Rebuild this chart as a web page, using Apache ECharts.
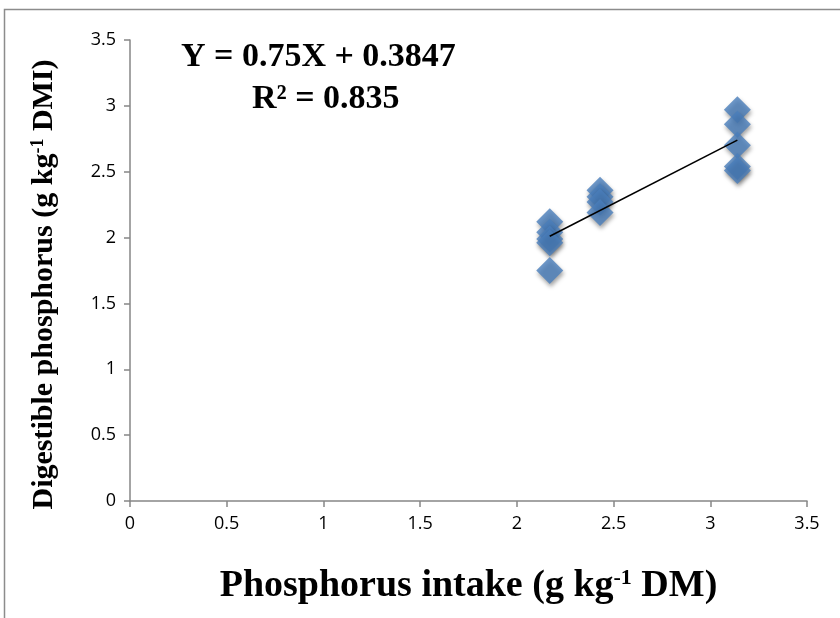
<!DOCTYPE html>
<html>
<head>
<meta charset="utf-8">
<script src="https://cdn.jsdelivr.net/npm/echarts@6/dist/echarts.min.js"></script>
<style>
  html, body { margin: 0; padding: 0; background: #fff; }
  #chart { width: 840px; height: 618px; }
</style>
</head>
<body>
<div id="chart"></div>
<script>
// P intake vs digestible P
const intake = [2.17, 2.17, 2.17, 2.17, 2.17, 2.43, 2.43, 2.43, 2.43, 3.14, 3.14, 3.14, 3.14, 3.14];
const digestible = [2.12, 2.04, 1.99, 1.96, 1.75, 2.36, 2.31, 2.27, 2.19, 2.97, 2.86, 2.70, 2.54, 2.51];
// trend line ends (Y = 0.75X + 0.3847)
const trendX = [2.17, 3.14];
const trendY = [2.01, 2.74];
const eqText = 'Y = 0.75X + 0.3847';
const r2Text = 'R² = 0.835';

const points = intake.map((x, i) => [x, digestible[i]]);
const trend = trendX.map((x, i) => [x, trendY[i]]);

const chart = echarts.init(document.getElementById('chart'));
const axisGray = '#868686';
const serif = '"Liberation Serif", "Times New Roman", serif';

const option = {
  animation: false,
  backgroundColor: '#fff',
  grid: { left: 130, right: 33, top: 40, bottom: 117 },
  xAxis: {
    type: 'value', min: 0, max: 3.5, interval: 0.5,
    splitLine: { show: false },
    axisLine: { onZero: false, lineStyle: { color: axisGray, width: 1.5 } },
    axisTick: { length: 6, lineStyle: { color: axisGray, width: 1.5 } },
    axisLabel: { margin: 14, color: '#000', fontSize: 18, fontFamily: '"Open Sans", sans-serif' },
    name: 'Phosphorus intake (g kg{sup|-1} DM)',
    nameLocation: 'middle',
    nameGap: 66,
    nameTextStyle: {
      color: '#000', fontFamily: serif, fontWeight: 'bold', fontSize: 38,
      rich: {
        sup: { fontFamily: serif, fontWeight: 'bold', fontSize: 22, padding: [0, 0, 17, 0], color: '#000' }
      }
    }
  },
  yAxis: {
    type: 'value', min: 0, max: 3.5, interval: 0.5,
    splitLine: { show: false },
    axisLine: { show: true, onZero: false, lineStyle: { color: axisGray, width: 1.5 } },
    axisTick: { show: true, length: 6, lineStyle: { color: axisGray, width: 1.5 } },
    axisLabel: { margin: 14, color: '#000', fontSize: 18, fontFamily: '"Open Sans", sans-serif' },
    name: 'Digestible phosphorus (g kg{sup|-1} DMI)',
    nameLocation: 'middle',
    nameRotate: 90,
    nameGap: 70,
    nameTextStyle: {
      color: '#000', fontFamily: serif, fontWeight: 'bold', fontSize: 30,
      padding: [0, 28, 0, 0],
      rich: {
        sup: { fontFamily: serif, fontWeight: 'bold', fontSize: 18, padding: [0, 0, 13, 0], color: '#000' }
      }
    }
  },
  graphic: [
    { type: 'rect', silent: true, shape: { x: 4.5, y: 9.5, width: 900, height: 700 },
      style: { fill: 'none', stroke: '#8c8c8c', lineWidth: 1.5 } },
    { type: 'text', left: 181, top: 40, silent: true,
      style: { text: eqText, fill: '#000', font: 'bold 34px ' + serif } },
    { type: 'text', left: 252, top: 82, silent: true,
      style: { text: r2Text, fill: '#000', font: 'bold 34px ' + serif } }
  ],
  series: [
    {
      type: 'scatter',
      data: points,
      symbol: 'diamond',
      symbolSize: 27,
      itemStyle: {
        color: '#4a7ebb',
        shadowColor: 'rgba(0,0,0,0.45)',
        shadowBlur: 4,
        shadowOffsetX: 1,
        shadowOffsetY: 3
      },
      z: 2
    },
    {
      type: 'line',
      data: trend,
      symbol: 'none',
      lineStyle: { color: '#000', width: 1.6 },
      z: 3
    }
  ]
};

chart.setOption(option);
</script>
</body>
</html>
